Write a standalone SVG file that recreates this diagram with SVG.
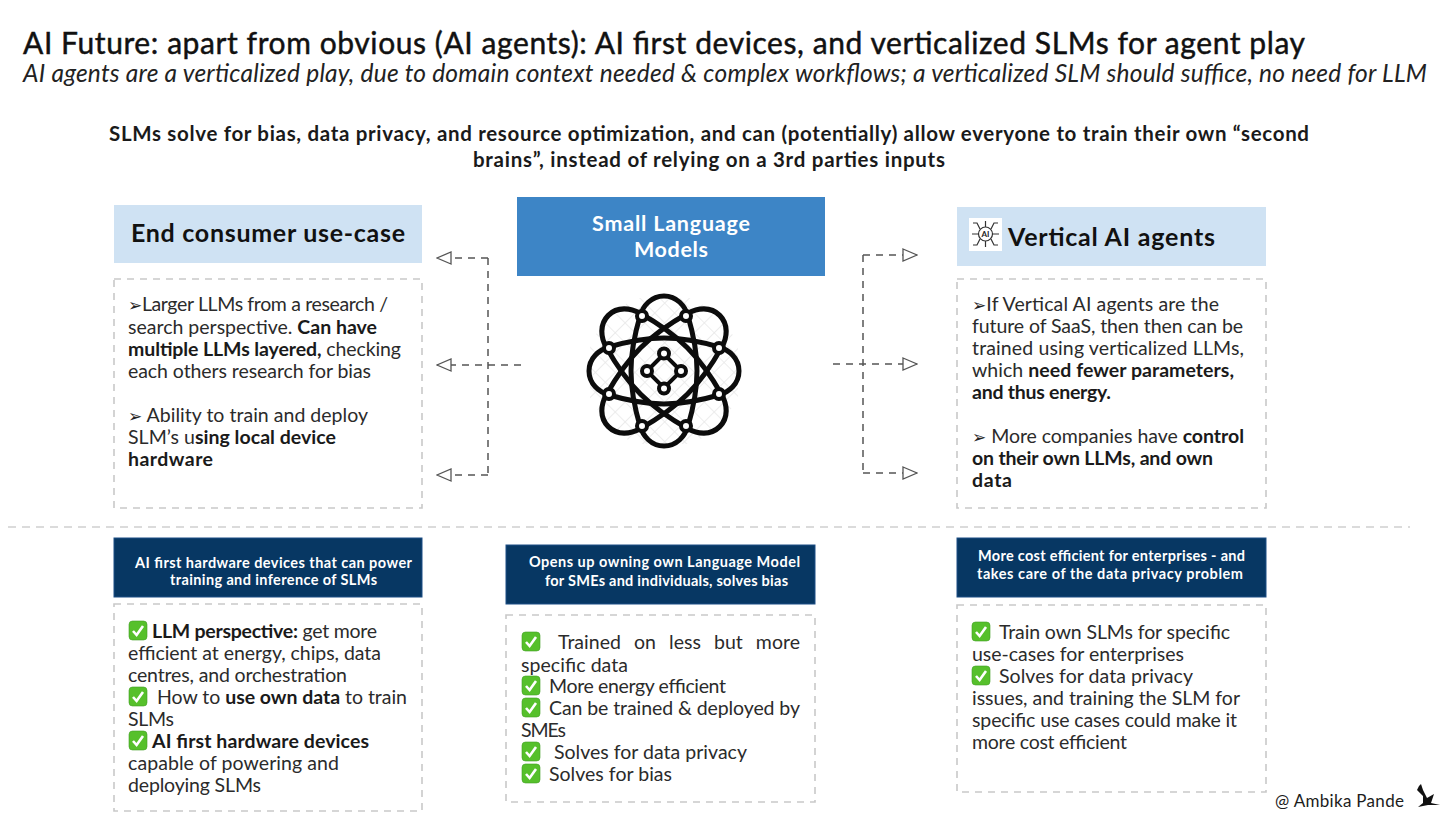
<svg xmlns="http://www.w3.org/2000/svg" width="1456" height="815" viewBox="0 0 1456 815">
<style>
text{font-family:"Lato","Noto Sans","Liberation Sans",sans-serif;fill:#1c1c1c}
.t{font-size:30px;font-weight:400;fill:#111;stroke:#111;stroke-width:.45px}
.s{font-size:24.5px;font-style:italic;font-weight:400;fill:#222}
.h{font-size:20.5px;font-weight:700;fill:#1a1a1a}
.b{font-size:19.5px;font-weight:400;fill:#2b2b2b;transform:translateY(1px)}
.bb{font-weight:700;fill:#1a1a1a}
.ar{font-family:"DejaVu Sans",sans-serif;font-size:17px;fill:#222}
.hh{font-size:25px;font-weight:700;fill:#111}
.w{font-size:14.5px;font-weight:700;fill:#fff}
.m{font-size:21.5px;font-weight:700;fill:#fff}
.lb{fill:#cfe2f3}
.nv{fill:#073763;stroke:#1c4f86;stroke-width:1}
.d{fill:#fff;stroke:#c9c9c9;stroke-width:1.6;stroke-dasharray:7 6}
.c{fill:none;stroke:#555;stroke-width:1.5;stroke-dasharray:7 6}
.e{fill:none;stroke:#0c0c0c;stroke-width:5}
.o{fill:#fff;stroke:#0c0c0c;stroke-width:4}
</style>
<defs>
<marker id="a" viewBox="0 0 16 14" refX="15" refY="7" markerWidth="16" markerHeight="14" orient="auto" markerUnits="userSpaceOnUse"><path d="M1 1L15 7L1 13Z" fill="#fff" stroke="#555" stroke-width="1.3"/></marker>
<pattern id="x" width="14" height="14" patternUnits="userSpaceOnUse" patternTransform="rotate(45 664 371)"><path d="M0 0H14M0 0V14" stroke="#e8e8e8" stroke-width="1.6"/></pattern>
<path id="lobe" d="M0-75C13-75 21-65 24-55C29-38 33-18 33 0C33 18 29 38 24 55C21 65 13 75 0 75C-13 75-21 65-24 55C-29 38-33 18-33 0C-33-18-29-38-24-55C-21-65-13-75 0-75Z"/>
<g id="k"><rect x="0" y="0" width="18" height="19" rx="3.5" fill="#56c02b" stroke="#3f9e22" stroke-width=".6"/><path d="M4 10l3.6 4L14 5" fill="none" stroke="#fff" stroke-width="2.6"/></g>
</defs>
<rect width="1456" height="815" fill="#fff"/>

<g id="title">
<text class="t" x="23" y="54" textLength="1282">AI Future: apart from obvious (AI agents): AI first devices, and verticalized SLMs for agent play</text>
<text class="s" x="23" y="82" textLength="1404">AI agents are a verticalized play, due to domain context needed &amp; complex workflows; a verticalized SLM should suffice, no need for LLM</text>
</g>
<g id="headline">
<text class="h" x="109" y="141" textLength="1200">SLMs solve for bias, data privacy, and resource optimization, and can (potentially) allow everyone to train their own “second</text>
<text class="h" x="473" y="167" textLength="472">brains”, instead of relying on a 3rd parties inputs</text>
</g>

<g id="connectors">
<path class="c" d="M488 258V475"/>
<path class="c" d="M488 258H437" marker-end="url(#a)"/>
<path class="c" d="M521 365H437" marker-end="url(#a)"/>
<path class="c" d="M488 475H437" marker-end="url(#a)"/>
<path class="c" d="M863 255V473"/>
<path class="c" d="M863 255H917" marker-end="url(#a)"/>
<path class="c" d="M833 364H917" marker-end="url(#a)"/>
<path class="c" d="M863 473H917" marker-end="url(#a)"/>
<path d="M8 527H1410" fill="none" stroke="#cfcfcf" stroke-width="1.6" stroke-dasharray="8 6"/>
</g>

<g id="end-consumer-header">
<rect class="lb" x="114" y="205" width="308" height="58"/>
<text class="hh" x="131" y="242" textLength="274">End consumer use-case</text>
</g>
<g id="end-consumer-body">
<rect class="d" x="114" y="279" width="308" height="229"/>
<text class="b" x="128" y="310" textLength="260"><tspan class="ar">➢</tspan>Larger LLMs from a research /</text>
<text class="b" x="128" y="333" textLength="249">search perspective. <tspan class="bb">Can have</tspan></text>
<text class="b" x="128" y="355" textLength="273"><tspan class="bb">multiple LLMs layered,</tspan> checking</text>
<text class="b" x="128" y="377" textLength="243">each others research for bias</text>
<text class="b" x="128" y="421" textLength="240"><tspan class="ar">➢</tspan> Ability to train and deploy</text>
<text class="b" x="128" y="443" textLength="208">SLM’s u<tspan class="bb">sing local device</tspan></text>
<text class="b bb" x="128" y="465" textLength="85">hardware</text>
</g>

<g id="slm-header">
<rect x="517" y="197" width="308" height="79" fill="#3d85c6"/>
<text class="m" x="592" y="231" textLength="158">Small Language</text>
<text class="m" x="634" y="257" textLength="74">Models</text>
</g>
<g id="atom-icon">
<path d="M632 298H696L738 340V402L696 444H632L590 402V340Z" fill="url(#x)"/>
<g transform="translate(664 371)">
<use href="#lobe" class="e"/>
<use href="#lobe" class="e" transform="rotate(90)"/>
<use href="#lobe" class="e" transform="rotate(45) scale(1 1.05)"/>
<use href="#lobe" class="e" transform="rotate(-45) scale(1 1.05)"/>
<path d="M0-17L-17 0L0 17L17 0Z" fill="none" stroke="#0c0c0c" stroke-width="4"/>
<circle class="o" cx="0" cy="-17.5" r="5"/><circle class="o" cx="-17" cy="0" r="5"/><circle class="o" cx="17" cy="0" r="5"/><circle class="o" cx="0" cy="17.5" r="5"/>
<circle class="o" cx="-22" cy="-55" r="5"/><circle class="o" cx="22" cy="-55" r="5"/>
<circle class="o" cx="-55" cy="-23" r="5"/><circle class="o" cx="55" cy="-23" r="5"/>
<circle class="o" cx="-55" cy="23" r="5"/><circle class="o" cx="55" cy="23" r="5"/>
<circle class="o" cx="-22" cy="55" r="5"/><circle class="o" cx="22" cy="55" r="5"/>
</g>
</g>

<g id="vertical-header">
<rect class="lb" x="957" y="207" width="309" height="59"/>
<rect x="969" y="218" width="33" height="33" fill="#fff"/>
<g fill="none" stroke="#333" stroke-width="1.2">
<circle cx="985.5" cy="234" r="7"/>
<path d="M985.5 227V221M985.5 241V247M978.5 234H972M992.5 234H999M980 229L977 223H973M991 229L994 223H998M980 239L977 245H973M991 239L994 245H998"/>
</g>
<text x="985.5" y="237" font-size="8" font-weight="700" text-anchor="middle">AI</text>
<text class="hh" x="1008" y="246" textLength="207">Vertical AI agents</text>
</g>
<g id="vertical-body">
<rect class="d" x="957" y="279" width="309" height="229"/>
<text class="b" x="972" y="310" textLength="247"><tspan class="ar">➢</tspan>If Vertical AI agents are the</text>
<text class="b" x="972" y="332" textLength="271">future of SaaS, then then can be</text>
<text class="b" x="972" y="354" textLength="272">trained using verticalized LLMs,</text>
<text class="b" x="972" y="376" textLength="262">which <tspan class="bb">need fewer parameters,</tspan></text>
<text class="b bb" x="972" y="398" textLength="139">and thus energy.</text>
<text class="b" x="972" y="442" textLength="272"><tspan class="ar">➢</tspan> More companies have <tspan class="bb">control</tspan></text>
<text class="b bb" x="972" y="464" textLength="241">on their own LLMs, and own</text>
<text class="b bb" x="972" y="486" textLength="40">data</text>
</g>

<g id="hardware-header">
<rect class="nv" x="114" y="538" width="308" height="59"/>
<text class="w" x="135" y="568" textLength="277">AI first hardware devices that can power</text>
<text class="w" x="170" y="585" textLength="207">training and inference of SLMs</text>
</g>
<g id="hardware-body">
<rect class="d" x="114" y="604" width="308" height="207"/>
<use href="#k" x="129" y="621"/>
<text class="b" x="152" y="637" textLength="225"><tspan class="bb">LLM perspective:</tspan> get more</text>
<text class="b" x="128" y="659" textLength="253">efficient at energy, chips, data</text>
<text class="b" x="128" y="681" textLength="219">centres, and orchestration</text>
<use href="#k" x="129" y="687"/>
<text class="b" x="157" y="703" textLength="250">How to <tspan class="bb">use own data</tspan> to train</text>
<text class="b" x="128" y="725" textLength="46">SLMs</text>
<use href="#k" x="129" y="731"/>
<text class="b bb" x="152" y="747" textLength="217">AI first hardware devices</text>
<text class="b" x="128" y="769" textLength="211">capable of powering and</text>
<text class="b" x="128" y="791" textLength="133">deploying SLMs</text>
</g>

<g id="sme-header">
<rect class="nv" x="506" y="545" width="309" height="59"/>
<text class="w" x="529" y="567" textLength="271">Opens up owning own Language Model</text>
<text class="w" x="545" y="586" textLength="243">for SMEs and individuals, solves bias</text>
</g>
<g id="sme-body">
<rect class="d" x="506" y="615" width="309" height="187"/>
<use href="#k" x="522" y="632"/>
<text class="b" x="558" y="648" word-spacing="8" textLength="242">Trained on less but more</text>
<text class="b" x="521" y="671" textLength="107">specific data</text>
<use href="#k" x="522" y="676"/>
<text class="b" x="549" y="692" textLength="177">More energy efficient</text>
<use href="#k" x="522" y="698"/>
<text class="b" x="549" y="714" textLength="251">Can be trained &amp; deployed by</text>
<text class="b" x="521" y="736" textLength="45">SMEs</text>
<use href="#k" x="522" y="742"/>
<text class="b" x="554" y="758" textLength="193">Solves for data privacy</text>
<use href="#k" x="522" y="764"/>
<text class="b" x="549" y="780" textLength="123">Solves for bias</text>
</g>

<g id="enterprise-header">
<rect class="nv" x="957" y="538" width="309" height="59"/>
<text class="w" x="978" y="561" textLength="267">More cost efficient for enterprises - and</text>
<text class="w" x="977" y="579" textLength="266">takes care of the data privacy problem</text>
</g>
<g id="enterprise-body">
<rect class="d" x="957" y="605" width="309" height="187"/>
<use href="#k" x="972" y="622"/>
<text class="b" x="999" y="638" textLength="231">Train own SLMs for specific</text>
<text class="b" x="972" y="660" textLength="212">use-cases for enterprises</text>
<use href="#k" x="972" y="666"/>
<text class="b" x="999" y="682" textLength="194">Solves for data privacy</text>
<text class="b" x="972" y="704" textLength="268">issues, and training the SLM for</text>
<text class="b" x="972" y="726" textLength="265">specific use cases could make it</text>
<text class="b" x="972" y="748" textLength="155">more cost efficient</text>
</g>

<g id="credit">
<text x="1275" y="807" font-size="17" fill="#222" textLength="129">@ Ambika Pande</text>
<path d="M1419 786L1421 784L1423 790L1427 798L1434 794L1431 803L1440 805L1428 805L1418 807L1423 803L1423 796L1417 790Z" fill="#111"/>
</g>
</svg>
